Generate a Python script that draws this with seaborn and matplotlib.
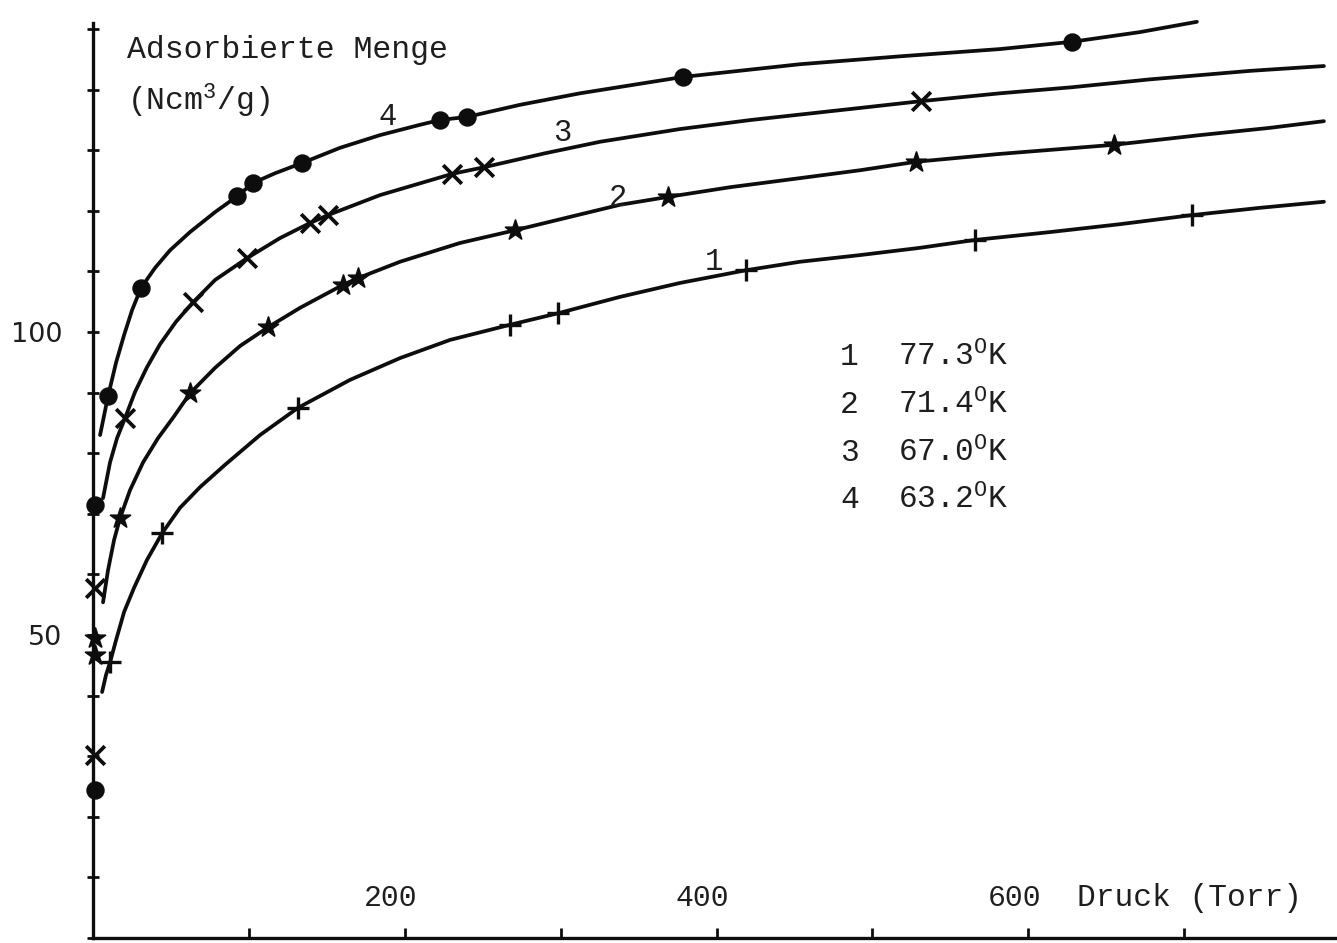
import numpy as np
import pandas as pd
import matplotlib
matplotlib.use("Agg")
import matplotlib.pyplot as plt
import seaborn as sns

# ---- isotherm data: pressure (Torr) vs. adsorbed amount (Ncm3/g) ----
# traced curve vertices for each isotherm
c1_line_p = [5.8, 8.3, 10.9, 14.8, 19.9, 26.3, 34.6, 44.3, 55.8, 68.6, 84.7, 107.1, 131.5,
             164.8, 196.9, 229.0, 267.5, 298.3, 338.0, 376.5, 418.9, 453.5, 492.0, 530.5,
             565.8, 614.0, 658.8, 704.9, 748.6, 789.6]
c1_line_v = [40.6, 43.4, 45.5, 49.2, 53.8, 57.8, 62.4, 66.8, 71.0, 74.4, 78.1, 83.0, 87.5,
             92.1, 95.7, 98.7, 101.2, 103.1, 105.8, 108.1, 110.2, 111.6, 112.7, 113.9,
             115.2, 116.5, 117.8, 119.3, 120.5, 121.5]
c2_line_p = [6.4, 9.6, 13.5, 17.3, 23.7, 32.1, 41.7, 52.0, 62.2, 78.3, 94.3, 112.3, 132.8,
             160.4, 170.0, 196.9, 235.4, 270.7, 305.9, 338.0, 368.8, 408.6, 453.5, 492.0,
             527.9, 581.8, 654.9, 710.1, 755.0, 789.6]
c2_line_v = [55.4, 60.7, 65.7, 69.3, 73.9, 78.5, 82.5, 86.1, 89.9, 94.1, 97.7, 100.8, 104.0,
             107.8, 108.9, 111.6, 114.7, 116.8, 119.0, 121.0, 122.3, 123.9, 125.4, 126.7,
             128.1, 129.4, 130.9, 132.5, 133.7, 134.8]
c3_line_p = [6.4, 10.9, 15.4, 20.5, 26.9, 34.6, 43.0, 53.2, 64.1, 78.3, 98.8, 119.9, 139.2,
             150.7, 184.1, 230.3, 250.8, 289.9, 325.2, 376.5, 422.1, 485.6, 531.1, 581.8,
             628.0, 678.0, 742.1, 789.6]
c3_line_v = [72.6, 78.5, 82.5, 85.8, 90.1, 94.2, 98.0, 101.7, 104.9, 108.6, 112.2, 115.5, 118.0,
             119.3, 122.6, 126.1, 127.2, 129.5, 131.4, 133.5, 135.0, 136.8, 138.1, 139.4,
             140.4, 141.7, 143.1, 143.9]
c4_line_p = [4.5, 9.6, 14.8, 19.9, 25.0, 30.8, 39.8, 49.4, 62.2, 78.3, 92.4, 102.6, 116.7,
             134.1, 158.4, 184.1, 209.7, 222.6, 239.9, 273.9, 312.4, 378.4, 453.5, 517.6,
             581.8, 628.0, 671.6, 708.1]
c4_line_v = [83.0, 89.4, 95.0, 99.5, 103.6, 107.3, 110.6, 113.5, 116.5, 119.8, 122.4, 124.6, 126.2,
             127.9, 130.4, 132.5, 134.2, 135.0, 135.5, 137.5, 139.4, 142.1, 144.2, 145.5,
             146.7, 147.9, 149.5, 151.2]

# measured points
c1_pts_p = [10.9, 44.3, 131.5, 267.5, 298.3, 418.9, 565.8, 704.9]
c1_pts_v = [45.5, 66.8, 87.5, 101.2, 103.1, 110.2, 115.2, 119.3]
c2_pts_p = [1.5, 1.5, 17.3, 62.2, 112.3, 160.4, 170.0, 270.7, 368.8, 527.9, 654.9]
c2_pts_v = [49.5, 46.7, 69.3, 89.9, 100.8, 107.8, 108.9, 116.8, 122.3, 128.1, 130.9]
c3_pts_p = [1.5, 1.5, 20.5, 64.1, 98.8, 139.2, 150.7, 230.3, 250.8, 531.1]
c3_pts_v = [57.8, 30.2, 85.8, 104.9, 112.2, 118.0, 119.3, 126.1, 127.2, 138.1]
c4_pts_p = [1.5, 1.5, 9.6, 30.8, 92.4, 102.6, 134.1, 222.6, 239.9, 378.4, 628.0]
c4_pts_v = [71.5, 24.4, 89.4, 107.3, 122.4, 124.6, 127.9, 135.0, 135.5, 142.1, 147.9]

curve_ids = ["1", "2", "3", "4"]
temperatures = ["77.3", "71.4", "67.0", "63.2"]
x_tick_values = [200, 400, 600]
y_tick_values = [50, 100]

lines = pd.concat([
    pd.DataFrame({"p": p, "v": v, "curve": cid})
    for cid, p, v in zip(curve_ids,
                         [c1_line_p, c2_line_p, c3_line_p, c4_line_p],
                         [c1_line_v, c2_line_v, c3_line_v, c4_line_v])
], ignore_index=True)
points = pd.concat([
    pd.DataFrame({"p": p, "v": v, "curve": cid})
    for cid, p, v in zip(curve_ids,
                         [c1_pts_p, c2_pts_p, c3_pts_p, c4_pts_p],
                         [c1_pts_v, c2_pts_v, c3_pts_v, c4_pts_v])
], ignore_index=True)

# ---- style ----
sns.set_style("ticks")
plt.rcParams["font.family"] = ["Liberation Mono", "DejaVu Sans Mono"]
plt.rcParams["mathtext.fontset"] = "custom"
plt.rcParams["mathtext.rm"] = "Liberation Mono"
plt.rcParams["mathtext.it"] = "Liberation Mono"
ink = "#0d0d0d"
txt = "#1e1e1e"

fig = plt.figure(figsize=(13.37, 9.43), dpi=100)
ax = fig.add_axes([0.0696, 0.0053, 0.9304, 0.9703])

for cid in curve_ids:
    sns.lineplot(data=lines[lines.curve == cid], x="p", y="v", sort=False,
                 estimator=None, color=ink, linewidth=2.7, ax=ax,
                 legend=False, clip_on=False)
for ln in ax.get_lines():
    ln.set_solid_joinstyle("round")
    ln.set_solid_capstyle("round")

marker_style = {"1": ("+", 240, 2.4), "2": ("*", 230, 1.2),
                "3": ("x", 180, 2.7), "4": ("o", 150, 1.0)}
for cid in curve_ids:
    m, s, lw = marker_style[cid]
    sub = points[points.curve == cid]
    if m in ("+", "x"):
        sns.scatterplot(data=sub, x="p", y="v", marker=m, s=s, color=ink,
                        linewidth=lw, ax=ax, legend=False, clip_on=False,
                        zorder=3)
    else:
        sns.scatterplot(data=sub, x="p", y="v", marker=m, s=s, color=ink,
                        edgecolor=ink, linewidth=lw, ax=ax, legend=False,
                        clip_on=False, zorder=3)

ax.set_xlim(0, 798)
ax.set_ylim(0, 151)
ax.set_xlabel("")
ax.set_ylabel("")
sns.despine(ax=ax)
for side in ("left", "bottom"):
    ax.spines[side].set_linewidth(2.4)
    ax.spines[side].set_color(ink)

# ticks: every 10 on the amount axis, every 100 on the pressure axis
ax.set_yticks(np.arange(0, 151, 10))
ax.set_yticklabels([str(t) if t in y_tick_values else "" for t in np.arange(0, 151, 10)])
ax.tick_params(axis="y", direction="inout", length=8, width=2, color=ink,
               labelsize=19.5, pad=18, labelcolor=txt)
for lab in ax.get_yticklabels():
    lab.set_fontfamily("DejaVu Sans")
ax.set_xticks(np.arange(0, 701, 100))
ax.set_xticklabels([])
ax.tick_params(axis="x", direction="in", length=7, width=2, color=ink)

# pressure tick labels sit inside the axes, above the axis line
for t in x_tick_values:
    ax.annotate(str(t), xy=(t, 0), xytext=(-14, 40), textcoords="offset pixels",
                ha="center", va="center", fontsize=21.5, color=txt)
ax.annotate("Druck (Torr)", xy=(600, 0), xytext=(49, 40),
            textcoords="offset pixels", ha="left", va="center",
            fontsize=22.5, color=txt)

# amount axis title
fig.text(127 / 1337, 1 - 50 / 943, "Adsorbierte Menge", ha="left",
         va="center", fontsize=22.7, color=txt)
fig.text(127 / 1337, 1 - 101 / 943, r"(Ncm$^{3}$/g)", ha="left",
         va="center", fontsize=22.7, color=txt)

# curve numbers
curve_label_pos = {"4": (188.9, 135.5), "3": (300.8, 132.8),
                   "2": (336.8, 122.1), "1": (398.3, 111.6)}
for cid in curve_ids:
    x, y = curve_label_pos[cid]
    ax.text(x, y, cid, ha="center", va="center", fontsize=22, color=txt)

# key: curve number and temperature
row_y = [357, 405, 453, 500]
for cid, temp, py in zip(curve_ids, temperatures, row_y):
    fig.text(840 / 1337, 1 - py / 943, cid, ha="left", va="center",
             fontsize=22.5, color=txt)
    fig.text(898 / 1337, 1 - py / 943, temp + r"$^{\mathrm{O}}$K",
             ha="left", va="center", fontsize=22.5, color=txt)

fig.savefig("out.png", dpi=100, facecolor="white")
